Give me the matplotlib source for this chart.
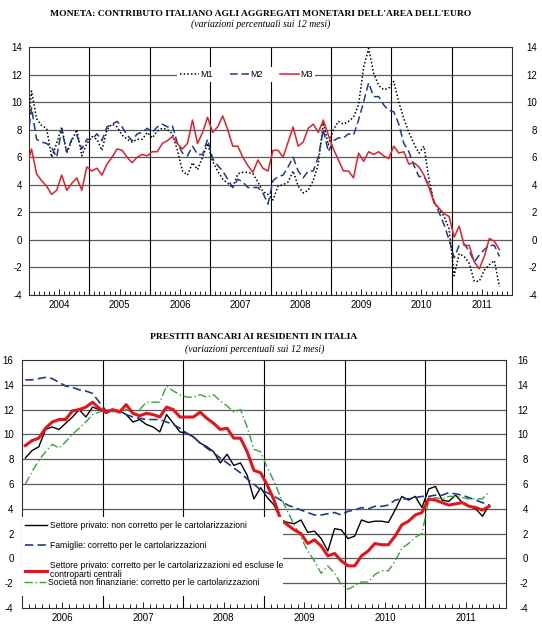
import numpy as np
import matplotlib
matplotlib.use("Agg")
import matplotlib.pyplot as plt
from matplotlib.patches import Rectangle

# ---------------- data: top chart (monthly, Dec 2003 - Oct 2011) ----------------
top_years = [2004, 2005, 2006, 2007, 2008, 2009, 2010, 2011]
top_first_month = -1          # first observation: Dec 2003 (Jan 2004 = 0)
m1 = [7.0,
      10.8, 8.8, 8.3, 8.1, 6.0, 7.0, 8.2, 6.3, 7.2, 8.0, 6.1, 7.0,
      7.5, 7.3, 6.5, 8.0, 8.4, 8.2, 7.6, 7.3, 7.1, 7.3, 7.3, 7.8,
      7.4, 7.9, 8.1, 8.0, 7.7, 6.5, 5.0, 4.7, 5.6, 5.1, 6.0, 7.0,
      5.7, 5.0, 4.4, 4.1, 3.8, 4.8, 4.9, 4.9, 4.8, 4.2, 3.5, 3.3,
      2.9, 3.9, 4.0, 4.2, 5.0, 3.9, 3.4, 3.6, 4.3, 5.5, 8.5, 6.9,
      8.0, 8.6, 8.4, 8.6, 8.9, 9.8, 12.5, 13.9, 12.1, 11.2, 10.9, 11.0,
      11.5, 10.0, 8.8, 7.8, 7.0, 6.3, 6.8, 4.4, 2.7, 2.2, 1.7, 0.8,
      -2.6, -1.0, -1.2, -1.7, -3.0, -3.0, -2.2, -1.8, -1.5, -3.4]
m2 = [6.6,
      9.6, 7.3, 7.1, 7.0, 6.7, 6.0, 8.0, 6.4, 7.3, 7.6, 6.6, 7.3,
      7.3, 7.7, 7.2, 8.2, 8.4, 8.6, 8.2, 7.6, 7.2, 7.7, 7.8, 8.1,
      7.8, 8.2, 8.4, 8.2, 8.3, 7.0, 6.3, 6.1, 6.8, 6.2, 6.2, 7.3,
      5.9, 5.4, 5.0, 4.4, 3.8, 4.4, 4.2, 3.8, 3.8, 3.8, 3.4, 2.6,
      4.3, 4.6, 4.7, 5.3, 6.0, 5.0, 4.5, 5.0, 5.0, 6.0, 8.0, 6.4,
      7.2, 7.4, 7.4, 7.7, 7.6, 8.7, 10.0, 11.4, 10.4, 10.4, 9.8, 9.4,
      9.3, 8.4, 7.0, 6.4, 5.4, 4.6, 4.6, 4.0, 2.8, 2.0, 1.1, 0.0,
      -1.3, -0.4, -0.3, -0.8, -1.6, -1.1, -0.7, -0.4, -0.4, -1.2]
m3 = [5.2,
      6.6, 4.8, 4.3, 3.9, 3.3, 3.6, 4.7, 3.6, 4.1, 4.5, 3.6, 5.3,
      5.0, 5.2, 4.7, 5.5, 6.0, 6.6, 6.5, 6.0, 5.6, 6.0, 6.2, 6.1,
      6.4, 6.4, 7.0, 7.2, 7.5, 7.0, 6.6, 7.0, 8.7, 7.0, 7.8, 8.9,
      7.8, 8.2, 9.0, 8.0, 6.8, 6.8, 6.0, 5.4, 4.9, 5.8, 5.2, 5.0,
      6.5, 6.5, 6.0, 7.1, 8.2, 6.8, 7.1, 8.1, 8.4, 7.8, 8.7, 7.6,
      6.6, 5.8, 5.0, 5.0, 4.5, 6.3, 5.7, 6.4, 6.2, 6.4, 6.1, 5.9,
      6.8, 6.3, 6.4, 5.5, 5.6, 5.3, 4.7, 3.8, 2.7, 2.3, 1.9, 1.7,
      0.2, 1.0, -0.4, -0.4, -1.6, -2.1, -1.2, 0.1, -0.1, -0.7]
top_labels = ["M1", "M2", "M3"]

# ---------------- data: bottom chart (monthly, Jan 2006 - Oct 2011) ----------------
bot_years = [2006, 2007, 2008, 2009, 2010, 2011]
bot_first_month = 0
priv_raw = [8.1, 8.7, 9.0, 10.4, 10.6, 10.4, 10.9, 11.4, 12.0, 11.4, 12.2, 12.0,
            11.7, 12.0, 11.9, 11.6, 11.0, 11.2, 10.8, 10.6, 10.2, 11.6, 10.9, 10.2,
            10.1, 9.8, 9.3, 9.0, 8.6, 7.7, 8.4, 7.5, 7.7, 6.7, 4.8, 5.7,
            4.9, 4.3, 3.1, 2.9, 2.8, 3.1, 2.1, 2.2, 1.6, 0.6, 2.4, 2.3,
            1.6, 1.8, 3.1, 2.9, 3.0, 3.0, 2.9, 3.9, 5.0, 4.7, 5.0, 4.1,
            5.6, 5.8, 4.7, 4.6, 5.1, 4.5, 4.2, 4.0, 3.4, 4.3]
famiglie = [14.4, 14.4, 14.5, 14.6, 14.5, 14.2, 13.9, 13.8, 13.6, 13.5, 13.3, 12.6,
            11.9, 12.0, 11.8, 11.6, 11.4, 11.3, 11.2, 11.2, 11.2, 11.0, 10.8, 10.5,
            10.1, 9.8, 9.3, 8.9, 8.5, 8.1, 7.7, 7.3, 6.9, 6.4, 6.0, 5.5,
            5.3, 5.0, 4.7, 4.3, 4.1, 3.9, 3.7, 3.5, 3.5, 3.6, 3.7, 3.5,
            3.8, 3.9, 4.1, 4.0, 4.2, 4.2, 4.3, 4.7, 4.8, 4.8, 4.9, 5.0,
            5.0, 5.1, 5.1, 5.3, 5.2, 5.1, 4.9, 4.7, 4.5, 4.3]
priv_adj = [9.1, 9.5, 9.7, 10.5, 11.0, 11.2, 11.2, 11.9, 12.0, 12.2, 12.6, 12.1,
            11.8, 12.0, 11.8, 12.4, 11.7, 11.5, 11.7, 11.6, 11.4, 12.2, 12.0, 11.4,
            11.4, 11.4, 11.8, 11.3, 10.9, 10.4, 10.5, 9.7, 9.7, 8.6, 7.1, 6.9,
            5.9, 4.7, 3.1, 2.7, 2.3, 2.0, 1.2, 1.5, 1.0, 0.2, 0.4, -0.2,
            -0.6, -0.6, 0.2, 0.6, 1.2, 1.1, 1.1, 1.8, 2.7, 3.0, 3.5, 3.7,
            4.8, 4.7, 4.5, 4.3, 4.4, 4.5, 4.2, 4.1, 3.9, 4.2]
snf = [6.0, 7.0, 7.9, 8.6, 9.2, 8.9, 9.4, 10.0, 10.5, 11.0, 11.6, 11.8,
       12.0, 11.8, 12.0, 12.0, 11.8, 12.0, 12.6, 12.6, 12.6, 13.9, 13.5, 13.2,
       13.0, 13.0, 13.2, 13.0, 13.2, 12.7, 12.3, 11.8, 12.0, 10.6, 8.8, 8.6,
       7.3, 6.2, 4.9, 3.8, 2.7, 1.7, 0.6, -0.2, -1.2, -0.6, -1.2, -2.1,
       -2.5, -2.2, -1.9, -1.9, -1.3, -1.0, -1.0, -0.2, 0.8, 1.2, 1.7, 2.0,
       4.7, 4.9, 4.8, 5.0, 5.0, 4.9, 4.8, 4.8, 4.8, 5.4]
bot_labels = ["Settore privato: non corretto per le cartolarizzazioni",
              "Famiglie: corretto per le cartolarizzazioni",
              "Settore privato: corretto per le cartolarizzazioni ed escluse le\ncontroparti centrali",
              "Società non finanziarie: corretto per le cartolarizzazioni"]

title_top = "MONETA: CONTRIBUTO ITALIANO AGLI AGGREGATI MONETARI DELL'AREA DELL'EURO"
title_bot = "PRESTITI BANCARI AI RESIDENTI IN ITALIA"
subtitle = "(variazioni percentuali sui 12 mesi)"

# ---------------- styling ----------------
SANS = "Liberation Sans"
SERIF = "Liberation Serif"
plt.rcParams["font.family"] = [SANS, "DejaVu Sans"]
W, H = 542, 625
fig = plt.figure(figsize=(W / 100, H / 100), dpi=100)
fig.patch.set_facecolor("white")

GRID = "#5a5a5a"


def setup_axis(ax, years, ylo, yhi, lpad, rpad):
    n_months = 12 * len(years)
    ax.set_xlim(0, n_months)
    ax.set_ylim(ylo, yhi)
    yt = list(range(ylo, yhi + 1, 2))
    ax.set_yticks(yt)
    ax.set_yticklabels([str(v) for v in yt])
    ax.tick_params(axis="y", length=0, labelsize=7, pad=lpad)
    for v in yt[1:-1]:
        ax.axhline(v, color=GRID, lw=0.9, zorder=1)
    for i in range(1, len(years)):
        ax.axvline(12 * i, color="black", lw=0.8, zorder=1)
    ax.set_xticks(np.arange(0, n_months + 1, 1), minor=True)
    ax.set_xticks([12 * i + 6 for i in range(len(years))])
    ax.set_xticklabels([str(y) for y in years])
    ax.tick_params(axis="x", which="minor", direction="in", length=3.2, width=0.6, color="black")
    ax.tick_params(axis="x", which="major", direction="in", length=4.5, width=0.6,
                   color="black", labelsize=7, pad=3.5)
    for s in ax.spines.values():
        s.set_color("#303030")
        s.set_linewidth(0.8)
    sec = ax.secondary_yaxis("right")
    sec.set_yticks(yt)
    sec.set_yticklabels([str(v) for v in yt])
    sec.tick_params(axis="y", length=0, labelsize=7, pad=rpad)
    for lab in sec.get_yticklabels():
        lab.set_horizontalalignment("right")
    sec.spines["right"].set_visible(False)


# ---------------- top chart ----------------
ax1 = fig.add_axes([29 / W, 1 - 295 / H, (512 - 29) / W, (295 - 47) / H])
setup_axis(ax1, top_years, -4, 14, 5, 18)
x_top = np.arange(len(m1)) + top_first_month + 0.5
l1, = ax1.plot(x_top, m1, color="black", lw=1.1, dashes=(1, 1.4), zorder=3)
l2, = ax1.plot(x_top, m2, color="#1f3a8c", lw=1.1, dashes=(5, 2.5), zorder=3)
l3, = ax1.plot(x_top, m3, color="#e0202a", lw=1.1, zorder=4)
leg1 = ax1.legend([l1, l2, l3], top_labels, loc="center", bbox_to_anchor=(0.45, 0.889),
                  ncol=3, fontsize=6.5, handlelength=2.1, handletextpad=0.15,
                  columnspacing=1.9, frameon=True, fancybox=False, framealpha=1,
                  borderpad=0.3)
leg1.get_frame().set_facecolor("white")
leg1.get_frame().set_edgecolor("none")
leg1.set_zorder(5)

fig.text(261 / W, 1 - 14 / H, title_top, family=SERIF, weight="bold", fontsize=6.8,
         ha="center", va="center")
fig.text(261 / W, 1 - 24.5 / H, subtitle, family=SERIF, style="italic", fontsize=7,
         ha="center", va="center")

# ---------------- bottom chart ----------------
ax2 = fig.add_axes([22 / W, 1 - 608 / H, (506 - 22) / W, (608 - 360) / H])
setup_axis(ax2, bot_years, -4, 16, 6, 16)
x_bot = np.arange(len(priv_raw)) + bot_first_month + 0.5
b1, = ax2.plot(x_bot, priv_raw, color="black", lw=1.0, zorder=3)
b2, = ax2.plot(x_bot, famiglie, color="#1f3a8c", lw=1.2, dashes=(5, 2.5), zorder=3)
b3, = ax2.plot(x_bot, priv_adj, color="#e3151c", lw=2.2, zorder=4)
b4, = ax2.plot(x_bot, snf, color="#3aa23a", lw=1.0, dashes=(6, 2, 1, 2), zorder=3)

# white background behind the legend (covers grid and lines, as in the original)
ax2.add_patch(Rectangle((0, (608 - 596) / 248), (283 - 22) / 484, (596 - 517) / 248,
                        transform=ax2.transAxes, facecolor="white", edgecolor="none",
                        zorder=4.5))

legA = ax2.legend([b1, b2, b3], bot_labels[:3], loc="upper left",
                  bbox_to_anchor=(0.0, (608 - 518) / 248), fontsize=6.2,
                  handlelength=2.6, handletextpad=0.25, labelspacing=1.3,
                  frameon=False, borderpad=0.35, borderaxespad=0)
legA.get_texts()[2].set_linespacing(0.95)
legA.set_zorder(5)
ax2.add_artist(legA)
legB = ax2.legend([b4], bot_labels[3:], loc="upper left",
                  bbox_to_anchor=(0.0, (608 - 576) / 248), fontsize=6.2,
                  handlelength=2.6, handletextpad=0.25,
                  frameon=False, borderpad=0.2, borderaxespad=0)
legB.set_zorder(5)

fig.text(254 / W, 1 - 337 / H, title_bot, family=SERIF, weight="bold", fontsize=6.8,
         ha="center", va="center")
fig.text(255 / W, 1 - 349 / H, subtitle, family=SERIF, style="italic", fontsize=7,
         ha="center", va="center")

fig.savefig("out.png", dpi=100, facecolor="white")
